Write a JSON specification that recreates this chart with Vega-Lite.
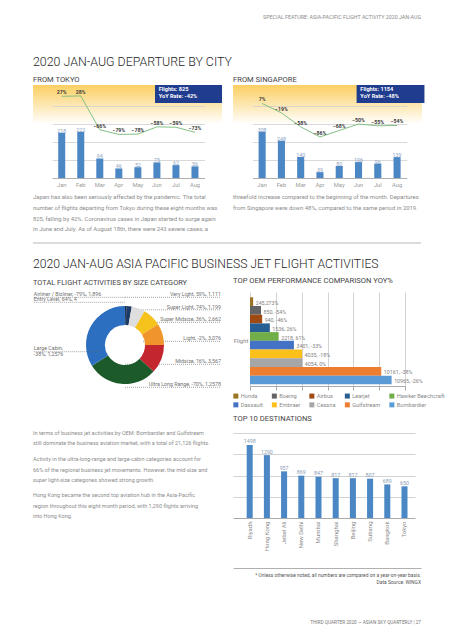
{
  "$schema": "https://vega.github.io/schema/vega-lite/v6.json",
  "background": "white",
  "padding": {"left": 32, "top": 15, "right": 15, "bottom": 5},
  "config": {
    "view": {"stroke": null},
    "axis": {"labelFont": "Roboto, sans-serif"},
    "legend": {"labelFont": "Roboto, sans-serif"}
  },
  "columns": 2,
  "align": "each",
  "bounds": "flush",
  "spacing": {"row": 0, "column": 11},
  "resolve": {"scale": {"color": "independent"}, "legend": {"color": "independent"}},
  "concat": [
    {
      "width": 189, "height": 70,
      "data": {"values": []},
      "mark": "text",
      "encoding": {}
    },
    {
      "width": 188, "height": 70,
      "data": {"values": [{"t": "SPECIAL FEATURE: ASIA-PACIFIC FLIGHT ACTIVITY 2020 JAN-AUG"}]},
      "mark": {"type": "text", "align": "right", "baseline": "top", "font": "Roboto, sans-serif", "fontSize": 5.3, "color": "#8a8a8a"},
      "encoding": {
        "text": {"field": "t"},
        "x": {"datum": 1, "type": "quantitative", "scale": {"domain": [0, 1]}, "axis": null},
        "y": {"datum": 1, "type": "quantitative", "scale": {"domain": [0, 1]}, "axis": null}
      }
    },
    {
      "width": 189, "height": 93,
      "view": {"stroke": null, "fill": {"gradient": "linear", "x1": 0, "y1": 0, "x2": 0, "y2": 1, "stops": [{"offset": 0, "color": "#fbcf62"}, {"offset": 0.42, "color": "#ffffff"}]}},
      "title": {"text": "2020 JAN-AUG DEPARTURE BY CITY", "subtitle": "FROM TOKYO", "anchor": "start", "frame": "group", "font": "Roboto, sans-serif", "fontSize": 12.4, "fontWeight": 300, "color": "#262626", "subtitleFont": "Roboto, sans-serif", "subtitleFontSize": 7.6, "subtitleFontWeight": 400, "subtitleColor": "#444444", "subtitlePadding": 8, "offset": 1},
      "data": {"values": [
        {"month": "Jan", "flights": 218, "yoy": 0.27},
        {"month": "Feb", "flights": 222, "yoy": 0.28},
        {"month": "Mar", "flights": 94, "yoy": -0.66},
        {"month": "Apr", "flights": 46, "yoy": -0.79},
        {"month": "May", "flights": 52, "yoy": -0.78},
        {"month": "Jun", "flights": 75, "yoy": -0.58},
        {"month": "Jul", "flights": 62, "yoy": -0.59},
        {"month": "Aug", "flights": 56, "yoy": -0.73}
      ]},
      "encoding": {
        "x": {"field": "month", "type": "ordinal", "scale": {"domain": ["Jan", "Feb", "Mar", "Apr", "May", "Jun", "Jul", "Aug"], "range": [19.2, 171.5], "paddingInner": 0.632, "paddingOuter": 0.316}, "axis": {"title": null, "labelAngle": 0, "labelFontSize": 5.8, "labelColor": "#9b9b9b", "ticks": false, "domainColor": "#b0b0b0", "labelPadding": 3}}
      },
      "layer": [
        {"mark": {"type": "bar", "color": "#4b87c5"}, "encoding": {"y": {"field": "flights", "type": "quantitative", "scale": {"domain": [0, 448]}, "axis": null}}},
        {"mark": {"type": "text", "baseline": "alphabetic", "fontSize": 5.3, "color": "#8ea4c4", "font": "Roboto, sans-serif"}, "encoding": {"y": {"field": "flights", "type": "quantitative", "scale": {"domain": [0, 448]}, "axis": null}, "text": {"field": "flights", "type": "quantitative"}}},
        {"mark": {"type": "line", "color": "#82c084", "strokeWidth": 1}, "encoding": {"y": {"field": "yoy", "type": "quantitative", "scale": {"domain": [-2, 0.583]}, "axis": {"values": [0, -0.5, -1, -1.5], "grid": true, "gridColor": "#cfcfcf", "gridWidth": 0.8, "labels": false, "ticks": false, "domain": false, "title": null}}}},
        {"mark": {"type": "text", "dy": -4, "fontSize": 5.2, "fontWeight": "bold", "color": "#3a3a3a", "font": "Roboto, sans-serif"}, "encoding": {"y": {"field": "yoy", "type": "quantitative", "scale": {"domain": [-2, 0.583]}, "axis": null}, "text": {"field": "yoy", "type": "quantitative", "format": ".0%"}}},
        {"data": {"values": [{"info": "Flights: 825\nYoY Rate: -42%"}]}, "mark": {"type": "rect", "color": "#1f3c8e"}, "encoding": {"x": {"datum": "Jun", "type": "ordinal", "bandPosition": 0.23}, "x2": {"datum": "Aug", "bandPosition": 4.36}, "y": {"datum": 0.583, "type": "quantitative", "scale": {"domain": [-2, 0.583]}, "axis": null}, "y2": {"datum": 0.084}}},
        {"data": {"values": [{"info": "Flights: 825\nYoY Rate: -42%"}]}, "mark": {"type": "text", "align": "left", "baseline": "top", "lineBreak": "\n", "lineHeight": 6.6, "fontSize": 5.6, "fontWeight": "bold", "color": "white", "font": "Roboto, sans-serif"}, "encoding": {"x": {"datum": "Jun", "type": "ordinal", "bandPosition": 0.76}, "y": {"datum": 0.514, "type": "quantitative", "scale": {"domain": [-2, 0.583]}, "axis": null}, "text": {"field": "info"}}}
      ],
      "resolve": {"scale": {"y": "independent"}}
    },
    {
      "width": 189, "height": 93,
      "view": {"stroke": null, "fill": {"gradient": "linear", "x1": 0, "y1": 0, "x2": 0, "y2": 1, "stops": [{"offset": 0, "color": "#fbcf62"}, {"offset": 0.42, "color": "#ffffff"}]}},
      "title": {"text": "FROM SINGAPORE", "anchor": "start", "frame": "group", "font": "Roboto, sans-serif", "fontSize": 7.6, "fontWeight": 400, "color": "#444444", "offset": 1},
      "data": {"values": [
        {"month": "Jan", "flights": 308, "yoy": 0.07},
        {"month": "Feb", "flights": 248, "yoy": -0.19},
        {"month": "Mar", "flights": 140, "yoy": -0.58},
        {"month": "Apr", "flights": 39, "yoy": -0.86},
        {"month": "May", "flights": 80, "yoy": -0.68},
        {"month": "Jun", "flights": 106, "yoy": -0.5},
        {"month": "Jul", "flights": 96, "yoy": -0.55},
        {"month": "Aug", "flights": 139, "yoy": -0.54}
      ]},
      "encoding": {
        "x": {"field": "month", "type": "ordinal", "scale": {"domain": ["Jan", "Feb", "Mar", "Apr", "May", "Jun", "Jul", "Aug"], "range": [19.5, 173.7], "paddingInner": 0.632, "paddingOuter": 0.316}, "axis": {"title": null, "labelAngle": 0, "labelFontSize": 5.8, "labelColor": "#9b9b9b", "ticks": false, "domainColor": "#b0b0b0", "labelPadding": 3}}
      },
      "layer": [
        {"mark": {"type": "bar", "color": "#4b87c5"}, "encoding": {"y": {"field": "flights", "type": "quantitative", "scale": {"domain": [0, 619]}, "axis": null}}},
        {"mark": {"type": "text", "baseline": "alphabetic", "fontSize": 5.3, "color": "#8ea4c4", "font": "Roboto, sans-serif"}, "encoding": {"y": {"field": "flights", "type": "quantitative", "scale": {"domain": [0, 619]}, "axis": null}, "text": {"field": "flights", "type": "quantitative"}}},
        {"mark": {"type": "line", "color": "#82c084", "strokeWidth": 1}, "encoding": {"y": {"field": "yoy", "type": "quantitative", "scale": {"domain": [-2, 0.583]}, "axis": {"values": [0, -0.5, -1, -1.5], "grid": true, "gridColor": "#cfcfcf", "gridWidth": 0.8, "labels": false, "ticks": false, "domain": false, "title": null}}}},
        {"mark": {"type": "text", "dy": -4, "fontSize": 5.2, "fontWeight": "bold", "color": "#3a3a3a", "font": "Roboto, sans-serif"}, "encoding": {"y": {"field": "yoy", "type": "quantitative", "scale": {"domain": [-2, 0.583]}, "axis": null}, "text": {"field": "yoy", "type": "quantitative", "format": ".0%"}}},
        {"data": {"values": [{"info": "Flights: 1154\nYoY Rate: -48%"}]}, "mark": {"type": "rect", "color": "#1f3c8e"}, "encoding": {"x": {"datum": "Jun", "type": "ordinal", "bandPosition": 0.23}, "x2": {"datum": "Aug", "bandPosition": 4.36}, "y": {"datum": 0.583, "type": "quantitative", "scale": {"domain": [-2, 0.583]}, "axis": null}, "y2": {"datum": 0.084}}},
        {"data": {"values": [{"info": "Flights: 1154\nYoY Rate: -48%"}]}, "mark": {"type": "text", "align": "left", "baseline": "top", "lineBreak": "\n", "lineHeight": 6.6, "fontSize": 5.6, "fontWeight": "bold", "color": "white", "font": "Roboto, sans-serif"}, "encoding": {"x": {"datum": "Jun", "type": "ordinal", "bandPosition": 0.76}, "y": {"datum": 0.514, "type": "quantitative", "scale": {"domain": [-2, 0.583]}, "axis": null}, "text": {"field": "info"}}}
      ],
      "resolve": {"scale": {"y": "independent"}}
    },
    {
      "width": 189, "height": 65,
      "data": {"values": [
        {"ln": 1, "text": "Japan has also been seriously affected by the pandemic. The total"},
        {"ln": 2, "text": "number of flights departing from Tokyo during these eight months was"},
        {"ln": 3, "text": "825, falling by 42%. Coronavirus cases in Japan started to surge again"},
        {"ln": 4, "text": "in June and July. As of August 18th, there were 243 severe cases, a"}
      ]},
      "mark": {"type": "text", "align": "left", "baseline": "middle", "font": "Roboto, sans-serif", "fontSize": 5.9, "color": "#8c8c8c"},
      "encoding": {
        "x": {"datum": 0, "type": "quantitative", "scale": {"domain": [0, 1]}, "axis": null},
        "y": {"field": "ln", "type": "ordinal", "scale": {"type": "point", "padding": 0, "range": [18.7, 51.4]}, "axis": null},
        "text": {"field": "text"}
      }
    },
    {
      "width": 189, "height": 65,
      "data": {"values": [
        {"ln": 1, "text": "threefold increase compared to the beginning of the month. Departures"},
        {"ln": 2, "text": "from Singapore were down 48%, compared to the same period in 2019."}
      ]},
      "mark": {"type": "text", "align": "left", "baseline": "middle", "font": "Roboto, sans-serif", "fontSize": 5.9, "color": "#8c8c8c"},
      "encoding": {
        "x": {"datum": 0, "type": "quantitative", "scale": {"domain": [0, 1]}, "axis": null},
        "y": {"field": "ln", "type": "ordinal", "scale": {"type": "point", "padding": 0, "range": [18.7, 29.6]}, "axis": null},
        "text": {"field": "text"}
      }
    },
    {
      "width": 189, "height": 49,
      "data": {"values": [{}]},
      "mark": {"type": "rule", "color": "#b8b8b8", "strokeWidth": 1},
      "encoding": {
        "x": {"datum": 0, "type": "quantitative", "scale": {"domain": [0, 1], "range": [0, 388]}, "axis": null},
        "x2": {"datum": 1},
        "y": {"datum": 1, "type": "quantitative", "scale": {"domain": [0, 1]}, "axis": null}
      }
    },
    {
      "width": 188, "height": 49,
      "data": {"values": []},
      "mark": "text",
      "encoding": {}
    },
    {
      "width": 189, "height": 94,
      "title": {"text": "2020 JAN-AUG ASIA PACIFIC BUSINESS JET FLIGHT ACTIVITIES", "subtitle": "TOTAL FLIGHT ACTIVITIES BY SIZE CATEGORY", "anchor": "start", "frame": "group", "font": "Roboto, sans-serif", "fontSize": 12.2, "fontWeight": 300, "color": "#262626", "subtitleFont": "Roboto, sans-serif", "subtitleFontSize": 7.4, "subtitleFontWeight": 400, "subtitleColor": "#444444", "subtitlePadding": 8, "offset": 6},
      "data": {"values": [
        {"seq": 1, "cat": "Airliner / Bizliner", "share": 1.5, "label": "Airliner / Bizliner, -79%, 1,896"},
        {"seq": 2, "cat": "Entry Level", "share": 0.5, "label": "Entry Level, 64%, 4"},
        {"seq": 3, "cat": "Very Light", "share": 8, "label": "Very Light, 59%, 1,111"},
        {"seq": 4, "cat": "Super Light", "share": 20, "label": "Super Light, 74%, 1,199"},
        {"seq": 5, "cat": "Super Midsize", "share": 28, "label": "Super Midsize, 36%, 2,662"},
        {"seq": 6, "cat": "Light", "share": 32, "label": "Light, -2%, 3,076"},
        {"seq": 7, "cat": "Midsize", "share": 43, "label": "Midsize, 16%, 3,567"},
        {"seq": 8, "cat": "Ultra Long Range", "share": 105, "label": "Ultra Long Range, -70%, 1,2578"},
        {"seq": 9, "cat": "Large Cabin", "share": 122, "label": "Large Cabin,\n-38%, 1,2576"}
      ]},
      "layer": [
        {"transform": [{"filter": {"field": "cat", "oneOf": ["Airliner / Bizliner", "Entry Level"]}}],
         "mark": {"type": "rule", "strokeDash": [1, 1], "color": "#666666", "strokeWidth": 0.6},
         "encoding": {"x": {"datum": -2.34, "type": "quantitative", "scale": {"domain": [-2.359, 2.487]}, "axis": null}, "x2": {"datum": 0},
           "y": {"field": "cat", "type": "nominal", "scale": {"type": "point", "domain": ["Airliner / Bizliner", "Entry Level"], "range": [5.3, 10.3], "padding": 0}, "axis": null}}},
        {"transform": [{"filter": {"field": "cat", "oneOf": ["Very Light", "Super Light", "Super Midsize"]}}],
         "mark": {"type": "rule", "strokeDash": [1, 1], "color": "#666666", "strokeWidth": 0.6},
         "encoding": {"x": {"datum": 0, "type": "quantitative", "scale": {"domain": [-2.359, 2.487]}, "axis": null}, "x2": {"datum": 2.462},
           "y": {"field": "cat", "type": "nominal", "scale": {"type": "point", "domain": ["Very Light", "Super Light", "Super Midsize"], "range": [5.3, 30.3], "padding": 0}, "axis": null}}},
        {"transform": [{"filter": {"field": "cat", "oneOf": ["Light", "Midsize", "Ultra Long Range"]}}],
         "mark": {"type": "rule", "strokeDash": [1, 1], "color": "#666666", "strokeWidth": 0.6},
         "encoding": {"x": {"datum": 0, "type": "quantitative", "scale": {"domain": [-2.359, 2.487]}, "axis": null}, "x2": {"datum": 2.462},
           "y": {"field": "cat", "type": "nominal", "scale": {"type": "point", "domain": ["Light", "Midsize", "Ultra Long Range"], "range": [49.3, 95.3], "padding": 0}, "axis": null}}},
        {"mark": {"type": "arc", "innerRadius": 20, "outerRadius": 39},
         "encoding": {
           "theta": {"field": "share", "type": "quantitative", "stack": true},
           "order": {"field": "seq", "type": "quantitative"},
           "color": {"field": "cat", "type": "nominal", "legend": null, "scale": {"domain": ["Airliner / Bizliner", "Entry Level", "Very Light", "Super Light", "Super Midsize", "Light", "Midsize", "Ultra Long Range", "Large Cabin"], "range": ["#0b2545", "#111111", "#1e3a66", "#dedede", "#f6c21c", "#f0952b", "#c4262d", "#1c5a2a", "#2c6ec0"]}},
           "x": {"datum": 0, "type": "quantitative", "scale": {"domain": [-2.359, 2.487]}, "axis": null},
           "y": {"datum": 0, "type": "quantitative", "scale": {"domain": [-1.051, 1.359]}, "axis": null}
         }},
        {"data": {"values": [{}]},
         "mark": {"type": "point", "shape": "circle", "filled": true, "size": 1257, "color": "white", "opacity": 1, "strokeWidth": 0},
         "encoding": {"x": {"datum": 0, "type": "quantitative", "scale": {"domain": [-2.359, 2.487]}, "axis": null}, "y": {"datum": 0, "type": "quantitative", "scale": {"domain": [-1.051, 1.359]}, "axis": null}}},
        {"transform": [{"filter": {"field": "cat", "oneOf": ["Large Cabin"]}}],
         "mark": {"type": "rule", "strokeDash": [1, 1], "color": "#666666", "strokeWidth": 0.6},
         "encoding": {"x": {"datum": -2.34, "type": "quantitative", "scale": {"domain": [-2.359, 2.487]}, "axis": null}, "x2": {"datum": -0.6},
           "y": {"field": "cat", "type": "nominal", "scale": {"type": "point", "domain": ["Large Cabin"], "range": [59.7, 59.7], "padding": 0}, "axis": null}}},
        {"transform": [{"filter": {"field": "cat", "oneOf": ["Airliner / Bizliner", "Entry Level"]}}],
         "mark": {"type": "text", "align": "left", "baseline": "bottom", "dy": -0.3, "fontSize": 5.3, "color": "#707070", "font": "Roboto, sans-serif"},
         "encoding": {"x": {"datum": -2.34, "type": "quantitative", "scale": {"domain": [-2.359, 2.487]}, "axis": null},
           "y": {"field": "cat", "type": "nominal", "scale": {"type": "point", "domain": ["Airliner / Bizliner", "Entry Level"], "range": [5.3, 10.3], "padding": 0}, "axis": null},
           "text": {"field": "label"}}},
        {"transform": [{"filter": {"field": "cat", "oneOf": ["Very Light", "Super Light", "Super Midsize"]}}],
         "mark": {"type": "text", "align": "right", "baseline": "bottom", "dy": -0.3, "fontSize": 5.3, "color": "#707070", "font": "Roboto, sans-serif"},
         "encoding": {"x": {"datum": 2.462, "type": "quantitative", "scale": {"domain": [-2.359, 2.487]}, "axis": null},
           "y": {"field": "cat", "type": "nominal", "scale": {"type": "point", "domain": ["Very Light", "Super Light", "Super Midsize"], "range": [5.3, 30.3], "padding": 0}, "axis": null},
           "text": {"field": "label"}}},
        {"transform": [{"filter": {"field": "cat", "oneOf": ["Light", "Midsize", "Ultra Long Range"]}}],
         "mark": {"type": "text", "align": "right", "baseline": "bottom", "dy": -0.3, "fontSize": 5.3, "color": "#707070", "font": "Roboto, sans-serif"},
         "encoding": {"x": {"datum": 2.462, "type": "quantitative", "scale": {"domain": [-2.359, 2.487]}, "axis": null},
           "y": {"field": "cat", "type": "nominal", "scale": {"type": "point", "domain": ["Light", "Midsize", "Ultra Long Range"], "range": [49.3, 95.3], "padding": 0}, "axis": null},
           "text": {"field": "label"}}},
        {"transform": [{"filter": {"field": "cat", "oneOf": ["Large Cabin"]}}],
         "mark": {"type": "text", "align": "left", "baseline": "bottom", "dy": -0.3, "lineBreak": "\n", "lineHeight": 5.7, "fontSize": 5.3, "color": "#707070", "font": "Roboto, sans-serif"},
         "encoding": {"x": {"datum": -2.34, "type": "quantitative", "scale": {"domain": [-2.359, 2.487]}, "axis": null},
           "y": {"field": "cat", "type": "nominal", "scale": {"type": "point", "domain": ["Large Cabin"], "range": [59.7, 59.7], "padding": 0}, "axis": null},
           "text": {"field": "label"}}}
      ],
      "resolve": {"scale": {"y": "independent", "x": "shared"}}
    },
    {
      "width": 182, "height": 94,
      "title": {"text": "TOP OEM PERFORMANCE COMPARISON YOY%", "anchor": "start", "frame": "group", "font": "Roboto, sans-serif", "fontSize": 7.6, "fontWeight": 400, "color": "#444444", "offset": 7},
      "data": {"values": [
        {"metric": "Flight", "oem": "Honda", "flights": 245, "label": "245,273%"},
        {"metric": "Flight", "oem": "Boeing", "flights": 850, "label": "850, -54%"},
        {"metric": "Flight", "oem": "Airbus", "flights": 940, "label": "940, -46%"},
        {"metric": "Flight", "oem": "Learjet", "flights": 1536, "label": "1536, 26%"},
        {"metric": "Flight", "oem": "Hawker Beechcraft", "flights": 2218, "label": "2218, 61%"},
        {"metric": "Flight", "oem": "Dassault", "flights": 3401, "label": "3401, -33%"},
        {"metric": "Flight", "oem": "Embraer", "flights": 4035, "label": "4035, -18%"},
        {"metric": "Flight", "oem": "Cessna", "flights": 4054, "label": "4054, 0%"},
        {"metric": "Flight", "oem": "Gulfstream", "flights": 10161, "label": "10161, -38%"},
        {"metric": "Flight", "oem": "Bombardier", "flights": 10965, "label": "10965, -26%"}
      ]},
      "encoding": {
        "y": {"field": "metric", "type": "nominal", "scale": {"paddingInner": 0, "paddingOuter": 0.04, "align": 0.76}, "axis": {"title": null, "ticks": false, "domain": false, "labelFontSize": 6, "labelColor": "#888888", "offset": -17, "labelPadding": 2}},
        "yOffset": {"field": "oem", "type": "nominal", "sort": ["Honda", "Boeing", "Airbus", "Learjet", "Hawker Beechcraft", "Dassault", "Embraer", "Cessna", "Gulfstream", "Bombardier"], "scale": {"paddingInner": 0, "paddingOuter": 0}},
        "x": {"field": "flights", "type": "quantitative", "scale": {"domain": [0, 12000], "range": [17, 172]}, "axis": {"values": [0, 2000, 4000, 6000, 8000, 10000, 12000], "grid": true, "gridColor": "#d3d3d3", "labels": false, "tickSize": 4, "tickColor": "#aaaaaa", "domainColor": "#aaaaaa", "title": null}}
      },
      "layer": [
        {"mark": {"type": "bar"},
         "encoding": {"color": {"field": "oem", "type": "nominal", "scale": {"domain": ["Honda", "Boeing", "Airbus", "Learjet", "Hawker Beechcraft", "Dassault", "Embraer", "Cessna", "Gulfstream", "Bombardier"], "range": ["#9a7424", "#646464", "#9e4a12", "#265f93", "#71ad48", "#4472c4", "#fdc01a", "#a6a6a6", "#ed7d31", "#5b9bd5"]},
           "legend": {"orient": "bottom", "offset": 2, "columns": 5, "direction": "horizontal", "symbolType": "square", "symbolSize": 25, "symbolStrokeWidth": 0, "labelFontSize": 5.7, "labelColor": "#8a8a8a", "title": null, "columnPadding": 8.5, "rowPadding": 2, "labelOffset": 2, "padding": 0}}}},
        {"mark": {"type": "text", "align": "left", "baseline": "middle", "dx": 2.5, "dy": 1.2, "fontSize": 5.3, "color": "#808080", "font": "Roboto, sans-serif"},
         "encoding": {"text": {"field": "label"}}}
      ]
    },
    {
      "width": 189, "height": 47,
      "data": {"values": [
        {"ln": 1, "text": "In terms of business jet activities by OEM: Bombardier and Gulfstream"},
        {"ln": 2, "text": "still dominate the business aviation market, with a total of 21,126 flights."}
      ]},
      "mark": {"type": "text", "align": "left", "baseline": "middle", "font": "Roboto, sans-serif", "fontSize": 5.5, "color": "#8c8c8c"},
      "encoding": {
        "x": {"datum": 0, "type": "quantitative", "scale": {"domain": [0, 1]}, "axis": null},
        "y": {"field": "ln", "type": "ordinal", "scale": {"type": "point", "padding": 0, "range": [46.7, 57.3]}, "axis": null},
        "text": {"field": "text"}
      }
    },
    {
      "width": 188, "height": 47,
      "data": {"values": []},
      "mark": "text",
      "encoding": {}
    },
    {
      "width": 189, "height": 85,
      "data": {"values": [
        {"para": 2, "ln": 1, "text": "Activity in the ultra-long-range and large-cabin categories account for"},
        {"para": 2, "ln": 2, "text": "66% of the regional business jet movements. However, the mid-size and"},
        {"para": 2, "ln": 3, "text": "super light-size categories showed strong growth."},
        {"para": 3, "ln": 1, "text": "Hong Kong became the second top aviation hub in the Asia-Pacific"},
        {"para": 3, "ln": 2, "text": "region throughout this eight month period, with 1,290 flights arriving"},
        {"para": 3, "ln": 3, "text": "into Hong Kong."}
      ]},
      "layer": [
        {"transform": [{"filter": "datum.para == 2"}],
         "mark": {"type": "text", "align": "left", "baseline": "middle", "font": "Roboto, sans-serif", "fontSize": 5.5, "color": "#8c8c8c"},
         "encoding": {
           "x": {"datum": 0, "type": "quantitative", "scale": {"domain": [0, 1]}, "axis": null},
           "y": {"field": "ln", "type": "ordinal", "scale": {"type": "point", "padding": 0, "range": [26, 47]}, "axis": null},
           "text": {"field": "text"}
         }},
        {"transform": [{"filter": "datum.para == 3"}],
         "mark": {"type": "text", "align": "left", "baseline": "middle", "font": "Roboto, sans-serif", "fontSize": 5.5, "color": "#8c8c8c"},
         "encoding": {
           "x": {"datum": 0, "type": "quantitative", "scale": {"domain": [0, 1]}, "axis": null},
           "y": {"field": "ln", "type": "ordinal", "scale": {"type": "point", "padding": 0, "range": [62, 83.3]}, "axis": null},
           "text": {"field": "text"}
         }}
      ],
      "resolve": {"scale": {"y": "independent"}}
    },
    {
      "width": 182, "height": 85,
      "title": {"text": "TOP 10 DESTINATIONS", "anchor": "start", "frame": "group", "font": "Roboto, sans-serif", "fontSize": 7.6, "fontWeight": 400, "color": "#444444", "offset": 10},
      "data": {"values": [
        {"city": "Riyadh", "flights": 1498},
        {"city": "Hong Kong", "flights": 1290},
        {"city": "Jebel Ali", "flights": 957},
        {"city": "New Delhi", "flights": 869},
        {"city": "Mumbai", "flights": 847},
        {"city": "Shanghai", "flights": 817},
        {"city": "Beijing", "flights": 817},
        {"city": "Subang", "flights": 807},
        {"city": "Bangkok", "flights": 689},
        {"city": "Tokyo", "flights": 650}
      ]},
      "encoding": {
        "x": {"field": "city", "type": "nominal", "scale": {"domain": ["Riyadh", "Hong Kong", "Jebel Ali", "New Delhi", "Mumbai", "Shanghai", "Beijing", "Subang", "Bangkok", "Tokyo"], "paddingInner": 0.65, "paddingOuter": 0.616, "align": 0.646}, "axis": {"title": null, "labelAngle": -90, "labelFontSize": 6, "labelColor": "#8a8a8a", "ticks": false, "domainColor": "#aaaaaa", "labelPadding": 3}},
        "y": {"field": "flights", "type": "quantitative", "scale": {"domain": [0, 1744]}, "axis": {"values": [436, 872, 1308, 1744], "grid": true, "gridColor": "#d3d3d3", "labels": false, "ticks": false, "domain": false, "title": null}}
      },
      "layer": [
        {"mark": {"type": "bar", "color": "#4b87c5"}},
        {"mark": {"type": "text", "baseline": "bottom", "dy": -0.5, "fontSize": 5.3, "color": "#8a9bb5", "font": "Roboto, sans-serif"}, "encoding": {"text": {"field": "flights", "type": "quantitative"}}}
      ]
    },
    {
      "width": 189, "height": 70,
      "data": {"values": []},
      "mark": "text",
      "encoding": {}
    },
    {
      "width": 188, "height": 70,
      "title": {"text": "THIRD QUARTER 2020 — ASIAN SKY QUARTERLY | 27", "orient": "bottom", "anchor": "end", "frame": "group", "font": "Roboto, sans-serif", "fontSize": 4.7, "fontWeight": "normal", "color": "#777777", "offset": 32},
      "data": {"values": [
        {"ln": 1, "text": "* Unless otherwise noted, all numbers are compared on a year-on-year basis."},
        {"ln": 2, "text": "Data Source: WINGX"}
      ]},
      "mark": {"type": "text", "align": "right", "baseline": "middle", "font": "Roboto, sans-serif", "fontSize": 4.9, "color": "#555555"},
      "encoding": {
        "x": {"datum": 1, "type": "quantitative", "scale": {"domain": [0, 1]}, "axis": {"orient": "top", "offset": -50, "labels": false, "ticks": false, "grid": false, "domainColor": "#b0b0b0", "title": null}},
        "y": {"field": "ln", "type": "ordinal", "scale": {"type": "point", "padding": 0, "range": [58, 64.7]}, "axis": null},
        "text": {"field": "text"}
      }
    }
  ]
}
